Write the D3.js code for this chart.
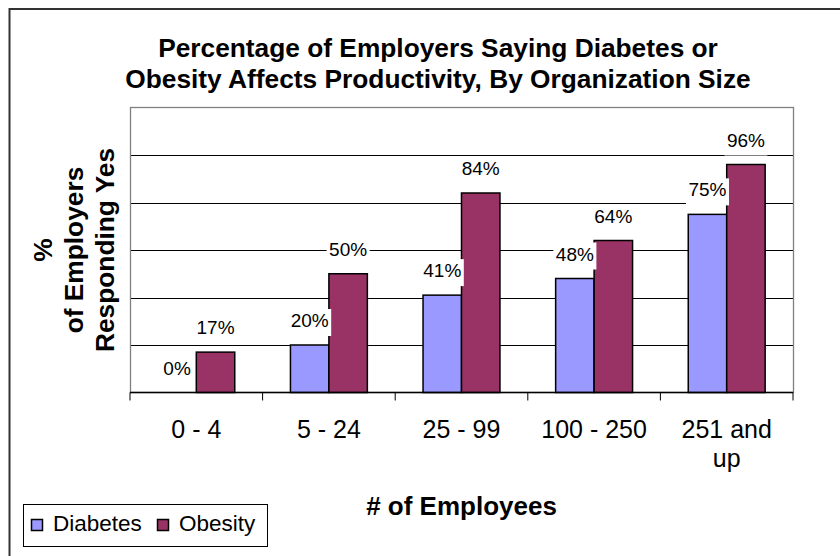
<!DOCTYPE html>
<html>
<head>
<meta charset="utf-8">
<script src="https://cdn.jsdelivr.net/npm/d3@7"></script>
<style>
  html, body { margin: 0; padding: 0; background: #fff; }
  svg { display: block; font-family: "Liberation Sans", Arial, sans-serif; }
</style>
</head>
<body>
<svg id="chart" width="840" height="556"></svg>
<script>
// Survey results: share of employers answering "yes", by organization size
const categories = ["0 - 4", "5 - 24", "25 - 99", "100 - 250", "251 and up"];
const categoryLines = [["0 - 4"], ["5 - 24"], ["25 - 99"], ["100 - 250"], ["251 and", "up"]];
const seriesNames = ["Diabetes", "Obesity"];
const diabetes = [0, 20, 41, 48, 75];
const obesity = [17, 50, 84, 64, 96];
const yTicks = [0, 20, 40, 60, 80, 100, 120];
const titleLines = ["Percentage of Employers Saying Diabetes or",
                    "Obesity Affects Productivity, By Organization Size"];
const yTitleLines = ["%", "of Employers", "Responding Yes"];
const xTitle = "# of Employees";
const colors = { Diabetes: "#9999FF", Obesity: "#993366" };

const rows = categories.map((c, i) => ({ cat: c, Diabetes: diabetes[i], Obesity: obesity[i] }));

const svg = d3.select("#chart");
const plot = { left: 130, right: 793, top: 107.5, bottom: 392.5 };

// chart area frame (runs off the right and bottom edges)
svg.append("path")
  .attr("d", "M9.5,600 V9 H900")
  .attr("fill", "none").attr("stroke", "#333").attr("stroke-width", 2);

const x0 = d3.scaleBand().domain(categories).range([plot.left, plot.right]).padding(0);
const groupW = x0.bandwidth() * 0.58;
const x1 = d3.scaleBand().domain(seriesNames)
  .range([(x0.bandwidth() - groupW) / 2, (x0.bandwidth() + groupW) / 2]);
const y = d3.scaleLinear().domain([0, 120]).range([plot.bottom, plot.top]);

// horizontal gridlines
svg.append("g").selectAll("line")
  .data(yTicks.filter(t => t > 0 && t < 120))
  .join("line")
  .attr("x1", plot.left).attr("x2", plot.right)
  .attr("y1", d => Math.round(y(d)) + 0.5).attr("y2", d => Math.round(y(d)) + 0.5)
  .attr("stroke", "#000").attr("stroke-width", 1);

// plot area border
svg.append("rect")
  .attr("x", plot.left + 0.5).attr("y", plot.top)
  .attr("width", plot.right - plot.left).attr("height", plot.bottom - plot.top)
  .attr("fill", "none").attr("stroke", "#808080").attr("stroke-width", 1.3);

// bars
const groups = svg.append("g").selectAll("g")
  .data(rows).join("g")
  .attr("transform", d => `translate(${x0(d.cat)},0)`);

groups.selectAll("rect")
  .data(d => seriesNames.map(k => ({ key: k, value: d[k] })))
  .join("rect")
  .attr("x", d => x1(d.key))
  .attr("y", d => y(d.value))
  .attr("width", x1.bandwidth())
  .attr("height", d => y(0) - y(d.value))
  .attr("fill", d => colors[d.key])
  .attr("stroke", "#000").attr("stroke-width", 1.5);

// category axis
const xAxis = svg.append("g").attr("transform", `translate(0,${plot.bottom})`);
xAxis.append("line")
  .attr("x1", plot.left).attr("x2", plot.right)
  .attr("stroke", "#000").attr("stroke-width", 1.5);
xAxis.selectAll("line.tick")
  .data(categories.map(c => x0(c)).concat([plot.right]))
  .join("line").attr("class", "tick")
  .attr("x1", d => d).attr("x2", d => d).attr("y1", 0).attr("y2", 8)
  .attr("stroke", "#000").attr("stroke-width", 1);

const catLabels = svg.append("g").selectAll("text")
  .data(categories.map((c, i) => ({ c, lines: categoryLines[i] })))
  .join("text")
  .attr("text-anchor", "middle")
  .attr("font-size", 25)
  .attr("fill", "#000");
catLabels.selectAll("tspan")
  .data(d => d.lines.map(l => ({ l, c: d.c })))
  .join("tspan")
  .attr("x", d => x0(d.c) + x0.bandwidth() / 2)
  .attr("y", (d, i) => 438 + i * 29)
  .text(d => d.l);

// value labels on white boxes
const labelG = svg.append("g");
rows.forEach(r => {
  seriesNames.forEach(k => {
    const cx = x0(r.cat) + x1(k) + x1.bandwidth() / 2;
    const base = y(r[k]) - 18;
    const g = labelG.append("g");
    const box = g.append("rect").attr("fill", "#fff");
    const t = g.append("text")
      .attr("x", cx).attr("y", base)
      .attr("text-anchor", "middle")
      .attr("font-size", 19)
      .attr("fill", "#000")
      .text(r[k] + "%");
    const w = t.node().getComputedTextLength();
    box.attr("x", cx - w / 2 - 2.5).attr("y", base - 18)
      .attr("width", w + 5).attr("height", 27);
  });
});

// chart title
svg.append("g").selectAll("text")
  .data(titleLines).join("text")
  .attr("x", 438).attr("y", (d, i) => 57 + i * 31)
  .attr("text-anchor", "middle")
  .attr("font-size", 26.3).attr("font-weight", "bold")
  .attr("fill", "#000")
  .text(d => d);

// value axis title, rotated
const yMid = (plot.top + plot.bottom) / 2;
svg.append("g").selectAll("text")
  .data(yTitleLines).join("text")
  .attr("transform", (d, i) => `translate(${52 + i * 31},${yMid}) rotate(-90)`)
  .attr("text-anchor", "middle")
  .attr("font-size", 26.3).attr("font-weight", "bold")
  .attr("fill", "#000")
  .text(d => d);

// category axis title
svg.append("text")
  .attr("x", (plot.left + plot.right) / 2).attr("y", 515)
  .attr("text-anchor", "middle")
  .attr("font-size", 26).attr("font-weight", "bold")
  .attr("fill", "#000")
  .text(xTitle);

// legend
const legend = svg.append("g");
legend.append("rect")
  .attr("x", 23.5).attr("y", 504.5).attr("width", 244).attr("height", 42)
  .attr("fill", "#fff").attr("stroke", "#000").attr("stroke-width", 1);
const legendX = [31, 157];
seriesNames.forEach((k, i) => {
  legend.append("rect")
    .attr("x", legendX[i] + 0.5).attr("y", 519.5).attr("width", 11).attr("height", 11)
    .attr("fill", colors[k]).attr("stroke", "#000").attr("stroke-width", 1.5);
  legend.append("text")
    .attr("x", legendX[i] + 22).attr("y", 531)
    .attr("font-size", 22.5).attr("fill", "#000")
    .text(k);
});
</script>
</body>
</html>
